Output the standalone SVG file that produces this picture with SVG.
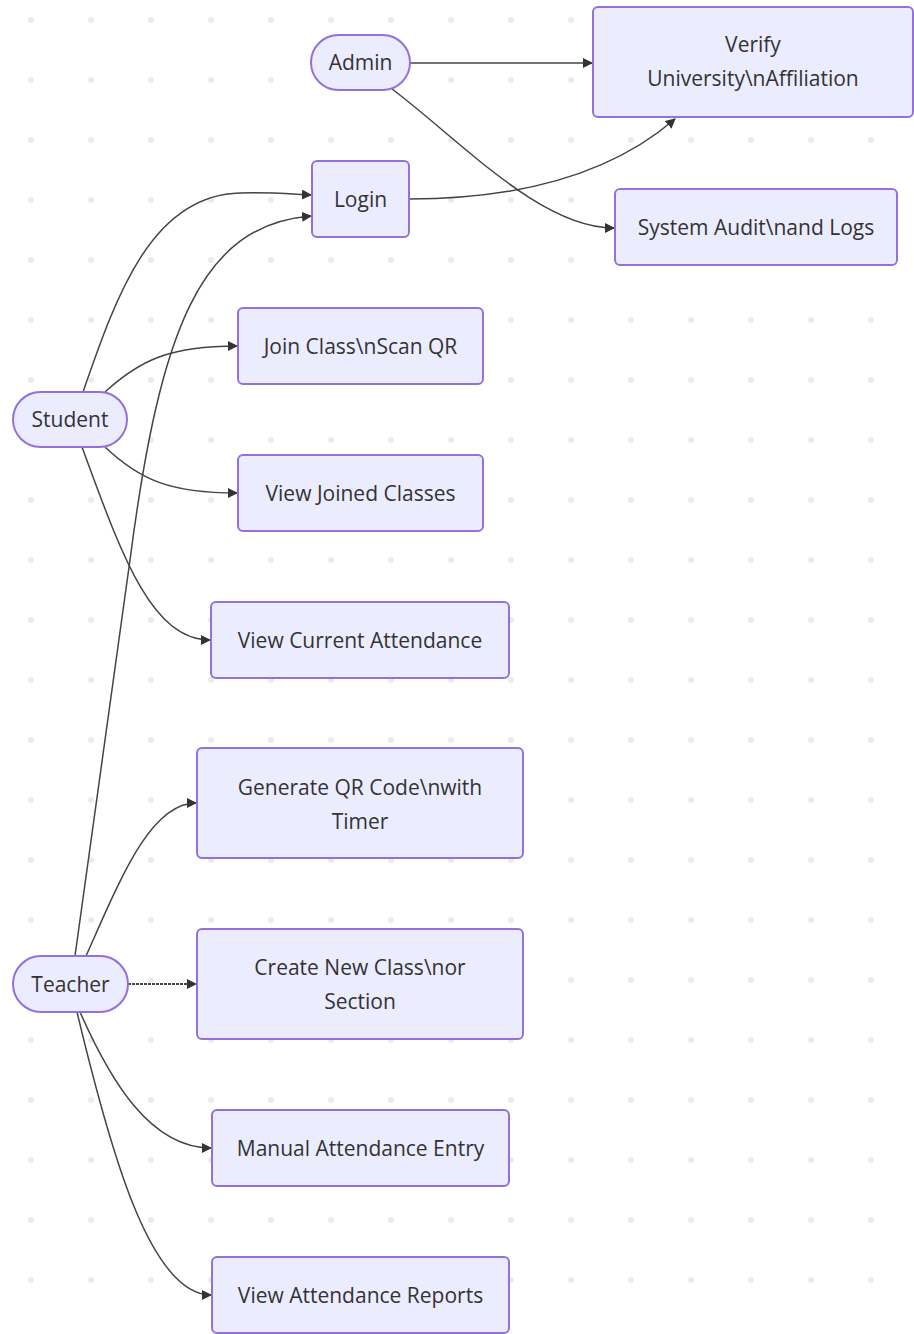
<svg xmlns="http://www.w3.org/2000/svg" width="914" height="1334" viewBox="0 0 914 1334">
  <style>
    .node rect { fill: #ECECFF; stroke: #9370DB; stroke-width: 2; }
    .node text { font-family: "Open Sans", "Liberation Sans", sans-serif; font-size: 21px; fill: #333; text-anchor: middle; }
    .edge { fill: none; stroke: #444; stroke-width: 1.5; marker-end: url(#arrow); }
    .dotted { stroke-dasharray: 3 1; stroke-width: 2; }
  </style>
  <defs>
    <pattern id="dots" patternUnits="userSpaceOnUse" x="1" y="-10" width="60" height="60">
      <circle cx="30" cy="30" r="3" fill="#ebebeb"/>
    </pattern>
    <marker id="arrow" viewBox="0 0 10 10" refX="9" refY="5" markerUnits="userSpaceOnUse" markerWidth="10" markerHeight="10" orient="auto">
      <path d="M0,0 L10,5 L0,10 z" fill="#333"/>
    </marker>
  </defs>

  <!-- dotted canvas -->
  <rect width="914" height="1334" fill="#fff"/>
  <rect width="914" height="1334" fill="url(#dots)"/>

  <!-- connectors -->
  <g id="edges">
    <path class="edge" d="M410,63 L592,63"/>
    <path class="edge" d="M392,89 C460,140 540,228 614,228"/>
    <path class="edge" d="M409,199 C520,199 610,175 675,119"/>
    <path class="edge" d="M83,392 C115,300 150,195 240,193 C270,192 290,194 311,195"/>
    <path class="edge" d="M75,956 L130,560 C160,330 200,225 311,216"/>
    <path class="edge" d="M105,392 C140,360 170,346 237,346"/>
    <path class="edge" d="M105,447 C140,480 170,493 237,493"/>
    <path class="edge" d="M82,447 C120,550 150,640 210,640"/>
    <path class="edge" d="M86,956 C120,880 150,803 196,803"/>
    <path class="edge dotted" d="M128,984 L196,984"/>
    <path class="edge" d="M80,1012 C110,1080 150,1148 211,1148"/>
    <path class="edge" d="M77,1012 C110,1150 150,1295 211,1295"/>
  </g>

  <!-- nodes -->
  <g id="admin" class="node">
    <rect x="311" y="35" width="99" height="55" rx="27.5"/>
    <text x="360.5" y="70">Admin</text>
  </g>
  <g id="verify" class="node">
    <rect x="593" y="7" width="320" height="110" rx="5"/>
    <text x="753" y="52">Verify</text>
    <text x="753" y="86">University\nAffiliation</text>
  </g>
  <g id="login" class="node">
    <rect x="312" y="161" width="97" height="76" rx="5"/>
    <text x="360.5" y="206.5">Login</text>
  </g>
  <g id="audit" class="node">
    <rect x="615" y="189" width="282" height="76" rx="5"/>
    <text x="756" y="234.5">System Audit\nand Logs</text>
  </g>
  <g id="student" class="node">
    <rect x="13" y="392" width="114" height="55" rx="27.5"/>
    <text x="70" y="426.5">Student</text>
  </g>
  <g id="join" class="node">
    <rect x="238" y="308" width="245" height="76" rx="5"/>
    <text x="360.5" y="353.5">Join Class\nScan QR</text>
  </g>
  <g id="joined" class="node">
    <rect x="238" y="455" width="245" height="76" rx="5"/>
    <text x="360.5" y="500.5">View Joined Classes</text>
  </g>
  <g id="current" class="node">
    <rect x="211" y="602" width="298" height="76" rx="5"/>
    <text x="360" y="647.5">View Current Attendance</text>
  </g>
  <g id="generate" class="node">
    <rect x="197" y="748" width="326" height="110" rx="5"/>
    <text x="360" y="794.5">Generate QR Code\nwith</text>
    <text x="360" y="828.5">Timer</text>
  </g>
  <g id="teacher" class="node">
    <rect x="13" y="956" width="115" height="56" rx="28"/>
    <text x="70.5" y="991.5">Teacher</text>
  </g>
  <g id="create" class="node">
    <rect x="197" y="929" width="326" height="110" rx="5"/>
    <text x="360" y="974.5">Create New Class\nor</text>
    <text x="360" y="1008.5">Section</text>
  </g>
  <g id="manual" class="node">
    <rect x="212" y="1110" width="297" height="76" rx="5"/>
    <text x="360.5" y="1155.5">Manual Attendance Entry</text>
  </g>
  <g id="reports" class="node">
    <rect x="212" y="1257" width="297" height="76" rx="5"/>
    <text x="360.5" y="1302.5">View Attendance Reports</text>
  </g>
</svg>
